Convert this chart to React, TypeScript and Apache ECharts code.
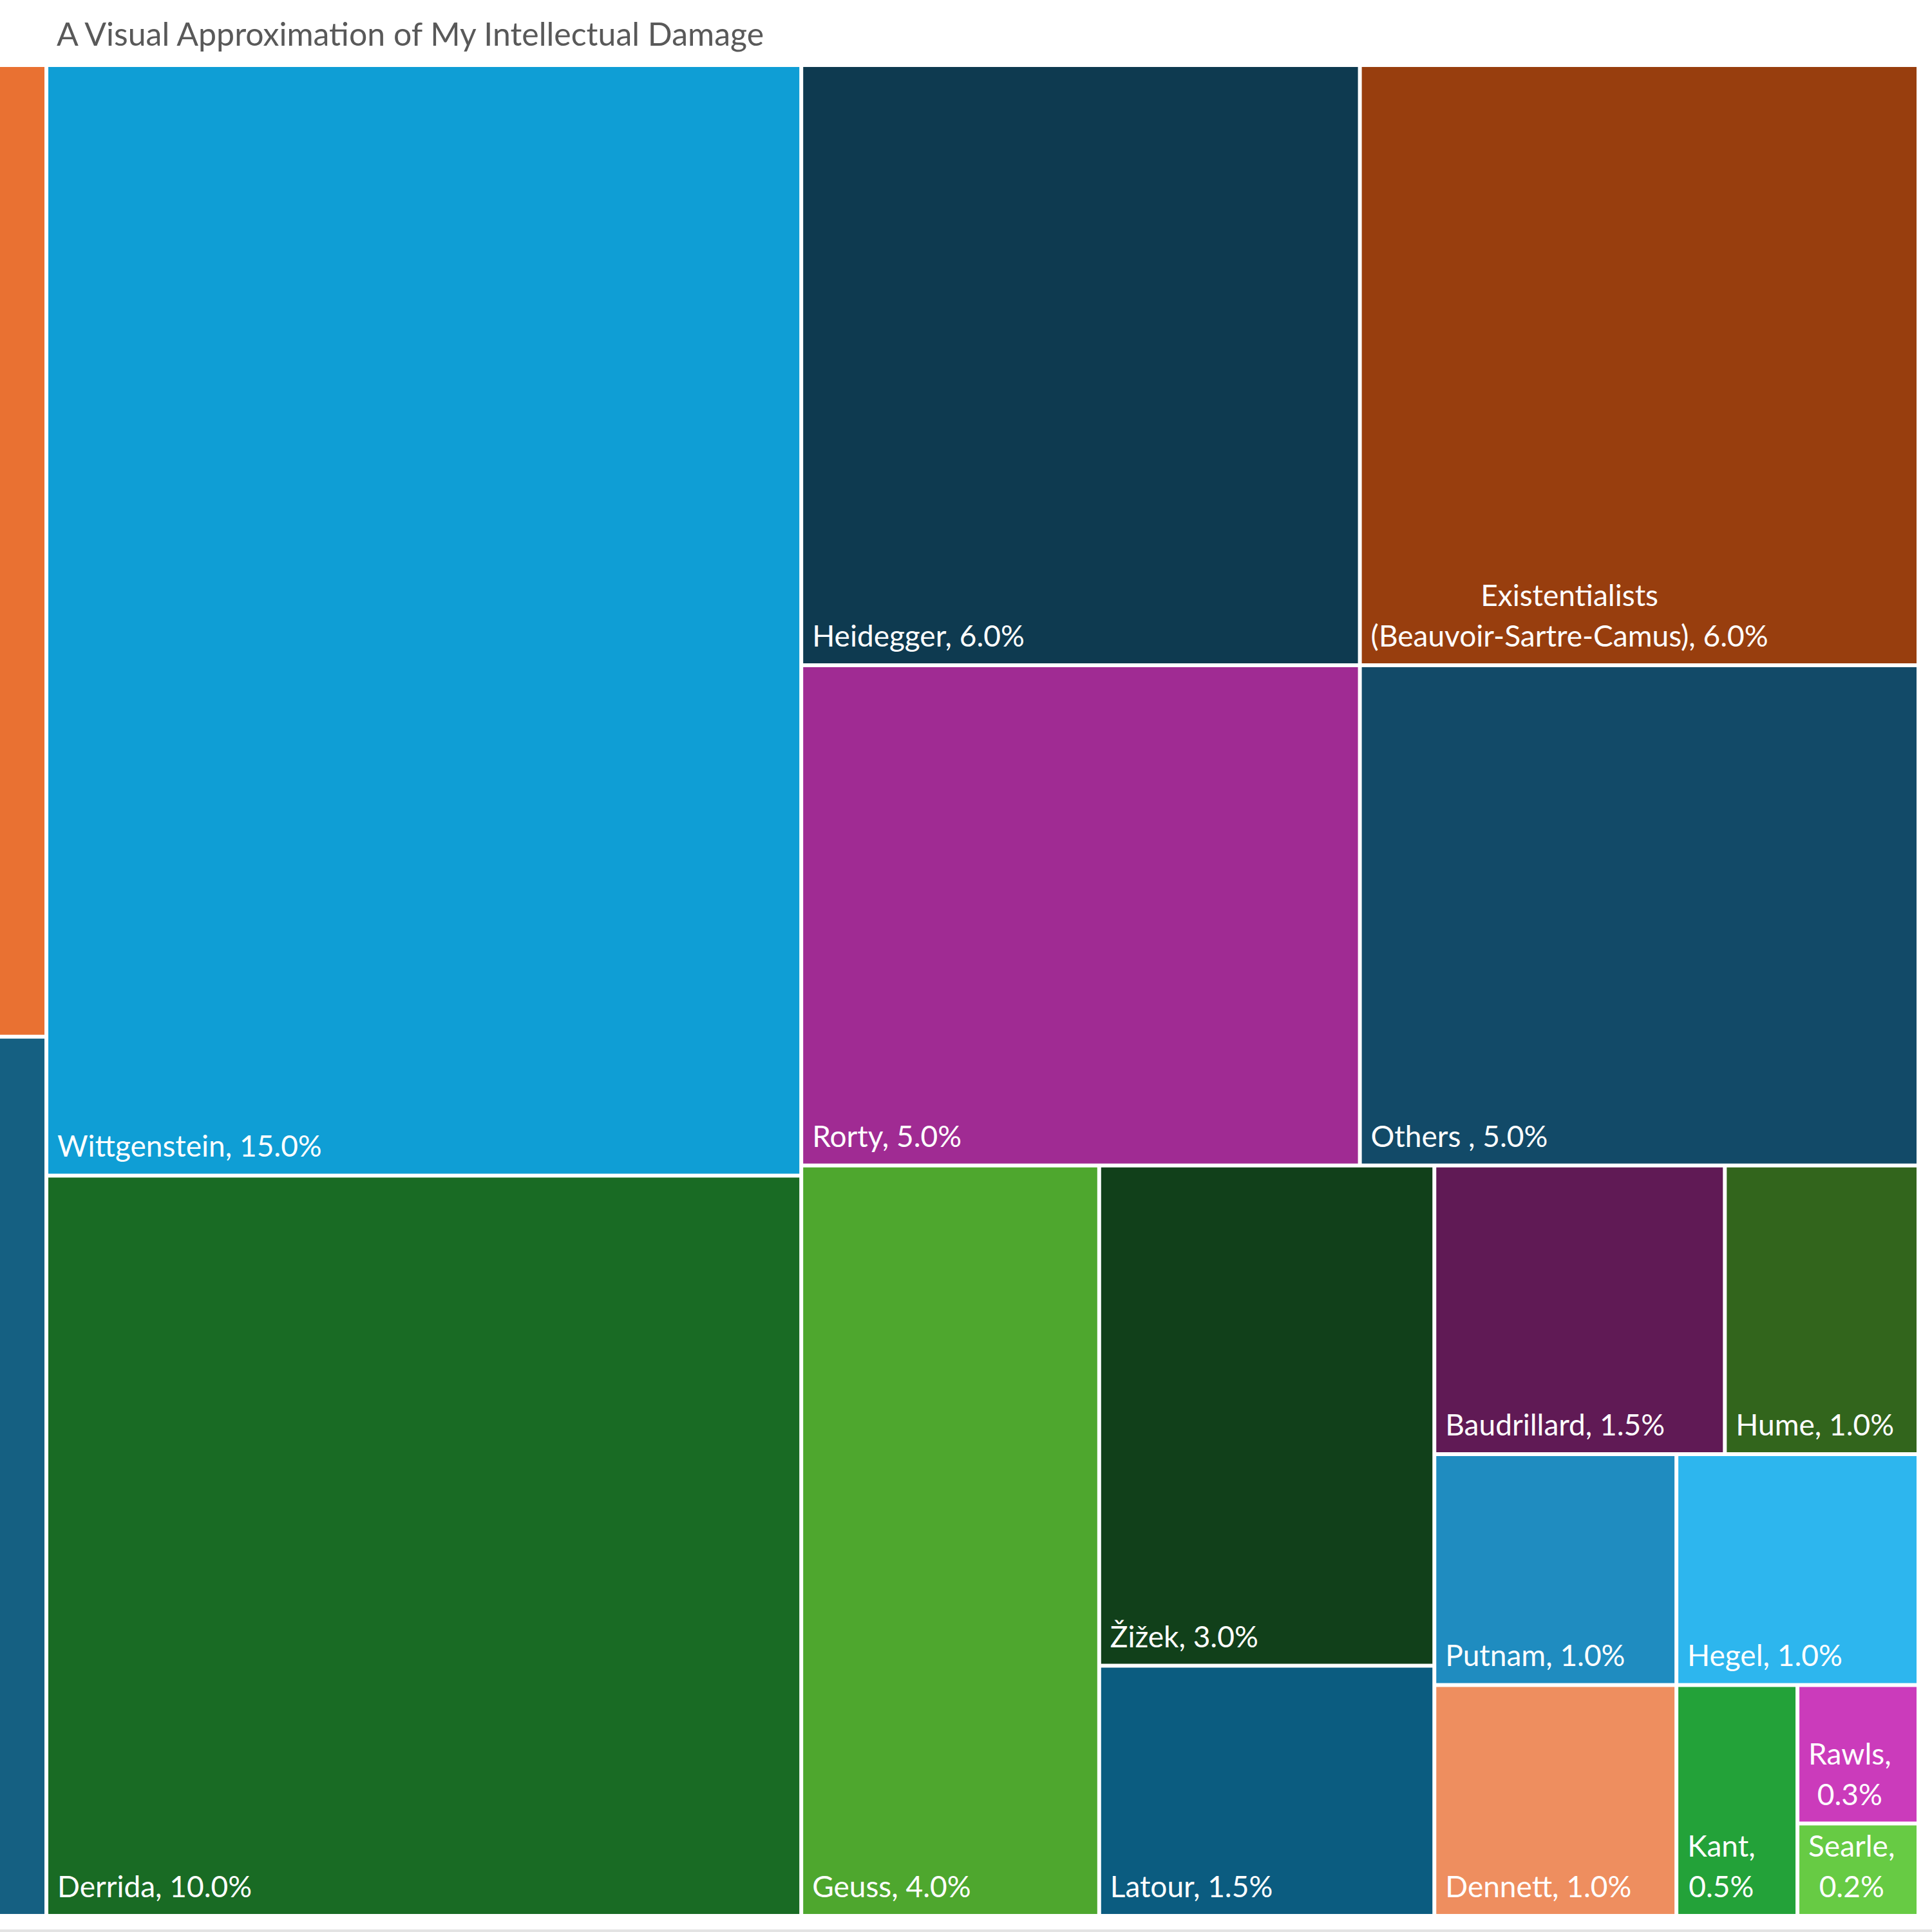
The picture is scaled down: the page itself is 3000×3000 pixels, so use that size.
import React, { useEffect, useRef } from "react";
import * as echarts from "echarts";

const TITLE = "A Visual Approximation of My Intellectual Damage";

// Cells of the treemap (the two narrow left-hand cells carry no visible label)
const philosophers = [
  "Unlabelled (orange)",
  "Unlabelled (blue)",
  "Wittgenstein",
  "Derrida",
  "Heidegger",
  "Rorty",
  "Existentialists (Beauvoir-Sartre-Camus)",
  "Others ",
  "Geuss",
  "Žižek",
  "Latour",
  "Baudrillard",
  "Hume",
  "Putnam",
  "Dennett",
  "Hegel",
  "Kant",
  "Rawls",
  "Searle",
];
const shares = [0.84, 0.76, 15, 10, 6, 5, 6, 5, 4, 3, 1.5, 1.5, 1, 1, 1, 1, 0.5, 0.3, 0.2];
const cellColors = [
  "#E97132", "#156082", "#0F9ED5", "#196B24", "#0E3A50", "#A02B93", "#983E0E", "#124A68",
  "#4EA72E", "#11401A", "#0B5C80", "#601A55", "#32651C", "#1F8CC0", "#EE8E5F", "#2DB6EE",
  "#23A239", "#CB3BBB", "#67CB44",
];
const hiddenLabels = [0, 1];
const wrappedLabels = ["Existentialists (Beauvoir-Sartre-Camus)", "Kant", "Rawls", "Searle"];
// nesting used to reproduce the slice arrangement of the original
const layoutGroups = [
  [0, 1],
  [2, 3],
  [[[4, 5], [6, 7]], [8, [9, 10], [[11, 12], [[13, 14], [15, [16, [17, 18]]]]]]],
];

const LABEL_FONT = "Lato";
const LABEL_SIZE = 46;
const LINE_H = 63;
const PAD_X = 14;
const PAD_B = 12;
const TITLE_FONT = "Lato, sans-serif";

function labelText(name: string, value: number) {
  const t = `${name}, ${value.toFixed(1)}%`;
  return wrappedLabels.includes(name) ? t.replace(" ", "\n") : t;
}

let ctx: CanvasRenderingContext2D | null = null;
function measure(s: string) {
  if (!ctx) {
    ctx = document.createElement("canvas").getContext("2d");
  }
  if (!ctx) return s.length * LABEL_SIZE * 0.5;
  ctx.font = `${LABEL_SIZE}px ${LABEL_FONT}`;
  return ctx.measureText(s).width;
}

function buildNode(spec: any): any {
  if (typeof spec === "number") {
    const name = philosophers[spec];
    const value = shares[spec];
    const lines = labelText(name, value).split("\n");
    const multi = lines.length > 1;
    const w = multi ? Math.max(...lines.map(measure)) : 0;
    return {
      name,
      value,
      itemStyle: { color: cellColors[spec], borderColor: "#ffffff", borderWidth: 3 },
      label: hiddenLabels.includes(spec)
        ? { show: false }
        : {
            show: true,
            position: multi ? [PAD_X + w / 2, "100%"] : [PAD_X, "100%"],
            align: multi ? "center" : "left",
            verticalAlign: "bottom",
            offset: [0, -PAD_B],
          },
    };
  }
  return { name: "", children: spec.map(buildNode) };
}

export default function App() {
  const ref = useRef<HTMLDivElement>(null);
  useEffect(() => {
    if (!ref.current) return;
    const chart = echarts.init(ref.current, null, { renderer: "svg" });
    chart.setOption({
      animation: false,
      backgroundColor: "#ffffff",
      title: {
        text: TITLE,
        left: 88,
        top: 22,
        padding: 0,
        textStyle: {
          fontFamily: TITLE_FONT,
          fontSize: 50,
          fontWeight: "normal",
          color: "#595959",
          lineHeight: 60,
        },
      },
      graphic: [
        {
          type: "rect",
          shape: { x: 0, y: 2996, width: 3000, height: 4 },
          style: { fill: "#e3e3e3" },
          silent: true,
        },
      ],
      series: [
        {
          type: "treemap",
          left: -3,
          top: 101,
          width: 2982,
          height: 2874,
          squareRatio: 0.0001,
          sort: false,
          roam: false,
          nodeClick: false,
          breadcrumb: { show: false },
          itemStyle: { borderWidth: 0, gapWidth: 0, borderColor: "#ffffff" },
          upperLabel: { show: false },
          label: {
            show: true,
            color: "#ffffff",
            fontFamily: LABEL_FONT,
            fontSize: LABEL_SIZE,
            lineHeight: LINE_H,
            padding: 0,
            distance: 0,
            formatter: (p: any) => labelText(p.name, p.value),
          },
          data: layoutGroups.map(buildNode),
        },
      ],
    });
    return () => chart.dispose();
  }, []);
  return (
    <div
      ref={ref}
      style={{ position: "absolute", left: 0, top: 0, width: 3000, height: 3000 }}
    />
  );
}
